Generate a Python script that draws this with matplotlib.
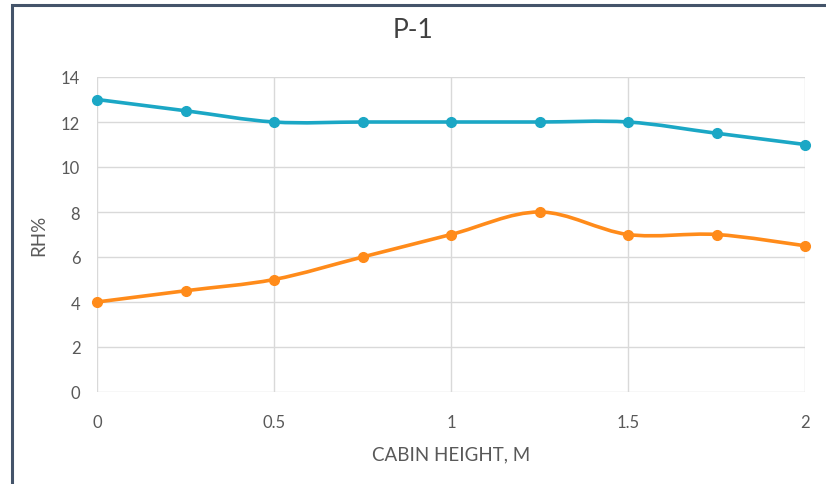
import numpy as np
import matplotlib
matplotlib.use("Agg")
import matplotlib.pyplot as plt
from matplotlib.path import Path
from matplotlib.patches import PathPatch, Rectangle

plt.rcParams['font.family'] = ['Lato', 'DejaVu Sans']

heights = [0, 0.25, 0.5, 0.75, 1.0, 1.25, 1.5, 1.75, 2.0]
rh_blue = [13, 12.5, 12, 12, 12, 12, 12, 11.5, 11]
rh_orange = [4, 4.5, 5, 6, 7, 8, 7, 7, 6.5]
x_ticks = [0, 0.5, 1, 1.5, 2]
x_tick_labels = ["0", "0.5", "1", "1.5", "2"]
y_ticks = [0, 2, 4, 6, 8, 10, 12, 14]

BLUE = "#1BA7C5"
ORANGE = "#FF8B1A"

fig = plt.figure(figsize=(8.26, 4.85), dpi=100)
ax = fig.add_axes([97/826, 1-393/485, (805-97)/826, (393-78)/485])


def smooth_path(xs, ys, t=1/6):
    xs = np.asarray(xs, float)
    ys = np.asarray(ys, float)
    pts = np.column_stack([xs, ys])
    n = len(pts)
    verts = [pts[0]]
    codes = [Path.MOVETO]
    for i in range(n - 1):
        p0 = pts[i - 1] if i > 0 else pts[i]
        p1 = pts[i]
        p2 = pts[i + 1]
        p3 = pts[i + 2] if i + 2 < n else pts[i + 1]
        c1 = p1 + (p2 - p0) * t
        c2 = p2 - (p3 - p1) * t
        verts += [c1, c2, p2]
        codes += [Path.CURVE4] * 3
    return Path(verts, codes)


for ys, col in [(rh_blue, BLUE), (rh_orange, ORANGE)]:
    patch = PathPatch(smooth_path(heights, ys), facecolor="none", edgecolor=col,
                      lw=2.6, capstyle="round", joinstyle="round", zorder=3)
    ax.add_patch(patch)
    ax.plot(heights, ys, linestyle="none", marker="o", markersize=7,
            color=col, zorder=4, clip_on=False)

ax.set_xlim(0, 2)
ax.set_ylim(0, 14)
ax.set_xticks(x_ticks)
ax.set_xticklabels(x_tick_labels)
ax.set_yticks(y_ticks)
ax.grid(True, color="#D9D9D9", lw=1)
ax.set_axisbelow(True)
for s in ax.spines.values():
    s.set_visible(False)
ax.tick_params(length=0, labelsize=12, labelcolor="#595959")
ax.tick_params(axis="x", pad=16)
ax.tick_params(axis="y", pad=12)

ax.set_xlabel("CABIN HEIGHT, M", fontsize=13.5, color="#595959", labelpad=11)
ax.set_ylabel("RH%", fontsize=13.5, color="#595959", labelpad=10)
fig.text(413/826, 1-31/485, "P-1", ha="center", va="center", fontsize=19, color="#404040")

fig.patches.append(Rectangle((12/826, -0.5), 2, 0.5 + 1 - 6/485, transform=fig.transFigure,
                             fill=False, edgecolor="#44546A", lw=2.2, clip_on=False))

fig.savefig("out.png", dpi=100, facecolor="white")
